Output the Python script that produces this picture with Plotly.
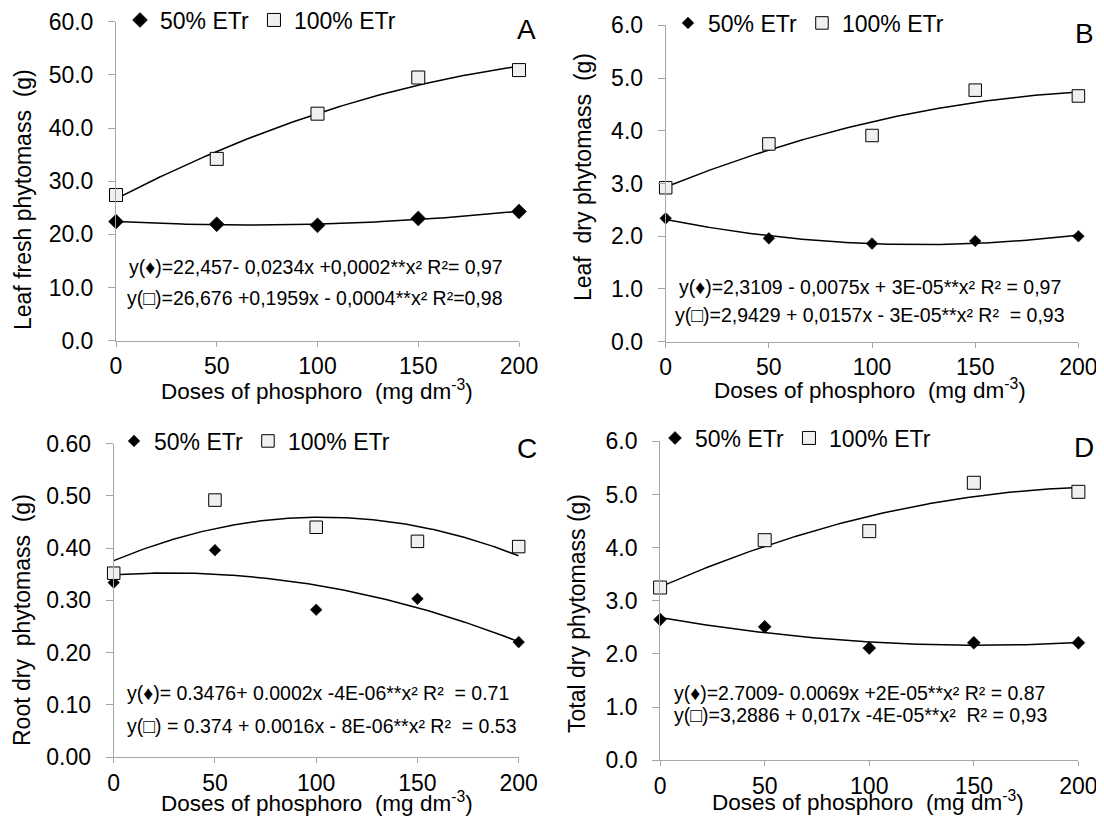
import numpy as np
import plotly.graph_objects as go

# ---------------- data ----------------
doses = [0, 50, 100, 150, 200]
x_ticks = [0, 50, 100, 150, 200]

leaf_fresh_50 = [22.4, 21.9, 21.7, 23.0, 24.3]
leaf_fresh_100 = [27.4, 34.2, 42.7, 49.5, 50.9]
leaf_dry_50 = [2.34, 1.96, 1.86, 1.91, 2.00]
leaf_dry_100 = [2.92, 3.75, 3.91, 4.77, 4.66]
root_dry_50 = [0.334, 0.396, 0.282, 0.303, 0.220]
root_dry_100 = [0.352, 0.492, 0.440, 0.413, 0.403]
total_dry_50 = [2.65, 2.51, 2.11, 2.21, 2.21]
total_dry_100 = [3.25, 4.14, 4.31, 5.22, 5.05]

series_names = ["50% ETr", "100% ETr"]
panel_letters = ["A", "B", "C", "D"]
y_titles = ["Leaf fresh phytomass\u00a0 (g)", "Leaf\u00a0 dry phytomass\u00a0 (g)",
            "Root dry\u00a0 phytomass\u00a0 (g)", "Total dry phytomass (g)"]
x_title = "Doses of phosphoro\u00a0 (mg dm<sup>-3</sup>)"
y_ranges = [[0, 60], [0, 6], [0, 0.6], [0, 6]]
y_dticks = [10, 1, 0.1, 1]
y_formats = [".1f", ".1f", ".2f", ".1f"]
equations = [
    ["y(\u2666)=22,457- 0,0234x +0,0002**x² R²= 0,97",
     "y(\u25a1)=26,676 +0,1959x - 0,0004**x² R²=0,98"],
    ["y(\u2666)=2,3109 - 0,0075x + 3E-05**x² R² = 0,97",
     "y(\u25a1)=2,9429 + 0,0157x - 3E-05**x² R²\u00a0 = 0,93"],
    ["y(\u2666)= 0.3476+ 0.0002x -4E-06**x² R²\u00a0 = 0.71",
     "y(\u25a1) = 0.374 + 0.0016x - 8E-06**x² R²\u00a0 = 0.53"],
    ["y(\u2666)=2.7009- 0.0069x +2E-05**x² R² = 0.87",
     "y(\u25a1)=3,2886 + 0,017x -4E-05**x²\u00a0 R² = 0,93"],
]
data50 = [leaf_fresh_50, leaf_dry_50, root_dry_50, total_dry_50]
data100 = [leaf_fresh_100, leaf_dry_100, root_dry_100, total_dry_100]

# ---------------- layout geometry (page pixels) ----------------
# the page body has an 8px margin, so the figure is drawn from (8, 8)
OFF = 8
W, H = 1096, 810
def px(x):
    return (x - OFF) / W
def py(y):
    return 1 - (y - OFF) / H

# plot boxes: x0 (x=0), x1 (x=200), ytop (max), ybot (0)
boxes = [(116, 519, 21.7, 340.7), (665.7, 1078.4, 25.3, 341.7),
         (113.7, 518.7, 443.7, 757.0), (660.1, 1078.4, 441.3, 760.3)]
letter_pos = [(526, 30), (1084, 33), (527, 449), (1084, 447)]
ytitle_pos = [(23, 200), (583, 177), (22, 620), (577, 614)]
xtitle_pos = [(317, 390), (870, 389), (317, 802), (868, 801)]
eq_pos = [[(127, 267), (125, 298)], [(677, 287), (673, 315)],
          [(125, 693), (125, 726)], [(672, 693), (672, 715)]]
legend_pos = [(120, 20), (668, 23), (114, 441), (655, 438)]
dia_sizes = [11.5, 9, 9, 10]
sq_sizes = [13, 12.5, 12.5, 13]

FONT = "Liberation Sans, Arial, sans-serif"
AXC = "#a6a6a6"

fig = go.Figure()
annotations = []
layout = dict(width=W, height=H,
              margin=dict(l=0, r=0, t=0, b=0, pad=0, autoexpand=False),
              paper_bgcolor="white", plot_bgcolor="white",
              font=dict(family=FONT, color="black"))

xfit = np.linspace(0, 200, 201)
for i in range(4):
    sfx = "" if i == 0 else str(i + 1)
    xa, ya = "x" + sfx, "y" + sfx
    lg = "legend" + sfx
    x0, x1, yt, yb = boxes[i]
    layout["xaxis" + sfx] = dict(
        domain=[px(x0), px(x1)], range=[0, 200], anchor=ya,
        tickvals=x_ticks, showline=True, linecolor=AXC, linewidth=1,
        ticks="outside", ticklen=5, tickcolor=AXC, showgrid=False,
        zeroline=False, tickfont=dict(size=23), ticklabelstandoff=0,
        automargin=False)
    layout["yaxis" + sfx] = dict(
        domain=[py(yb), py(yt)], range=y_ranges[i], anchor=xa,
        dtick=y_dticks[i], tick0=0, tickformat=y_formats[i],
        showline=True, linecolor=AXC, linewidth=1, ticks="outside",
        ticklen=7, tickcolor=AXC, showgrid=False, zeroline=False,
        tickfont=dict(size=23), ticklabelstandoff=10, automargin=False)
    # quadratic trend lines fitted from the data points
    for vals in (data50[i], data100[i]):
        coef = np.polyfit(doses, vals, 2)
        fig.add_trace(go.Scatter(x=xfit, y=np.polyval(coef, xfit), mode="lines",
                                 line=dict(color="black", width=1.5),
                                 xaxis=xa, yaxis=ya, showlegend=False,
                                 hoverinfo="skip", cliponaxis=False))
    fig.add_trace(go.Scatter(x=doses, y=data50[i], mode="markers", name=series_names[0],
                             marker=dict(symbol="diamond", size=dia_sizes[i], color="black",
                                         line=dict(color="black", width=0.5)),
                             xaxis=xa, yaxis=ya, legend=lg, cliponaxis=False))
    fig.add_trace(go.Scatter(x=doses, y=data100[i], mode="markers", name=series_names[1],
                             marker=dict(symbol="square", size=sq_sizes[i], color="#f0f0f0",
                                         line=dict(color="black", width=1)),
                             xaxis=xa, yaxis=ya, legend=lg, cliponaxis=False))
    lx, ly = legend_pos[i]
    layout[lg] = dict(x=px(lx), y=py(ly), xanchor="left", yanchor="middle",
                      orientation="h", font=dict(size=23), bgcolor="rgba(0,0,0,0)",
                      itemwidth=30, tracegroupgap=0)
    # panel letter
    annotations.append(dict(text=panel_letters[i], x=px(letter_pos[i][0]), y=py(letter_pos[i][1]),
                            xref="paper", yref="paper", showarrow=False,
                            font=dict(size=28), xanchor="center", yanchor="middle"))
    # axis titles
    annotations.append(dict(text=y_titles[i], x=px(ytitle_pos[i][0]), y=py(ytitle_pos[i][1]),
                            xref="paper", yref="paper", showarrow=False, textangle=-90,
                            font=dict(size=23), xanchor="center", yanchor="middle"))
    annotations.append(dict(text=x_title, x=px(xtitle_pos[i][0]), y=py(xtitle_pos[i][1]),
                            xref="paper", yref="paper", showarrow=False,
                            font=dict(size=22.5), xanchor="center", yanchor="middle"))
    # equations
    for j in range(2):
        ex, ey = eq_pos[i][j]
        annotations.append(dict(text=equations[i][j], x=px(ex), y=py(ey),
                                xref="paper", yref="paper", showarrow=False,
                                font=dict(size=19.5), xanchor="left", yanchor="middle"))

layout["annotations"] = annotations
fig.update_layout(**layout)
fig.write_html("out.html")
